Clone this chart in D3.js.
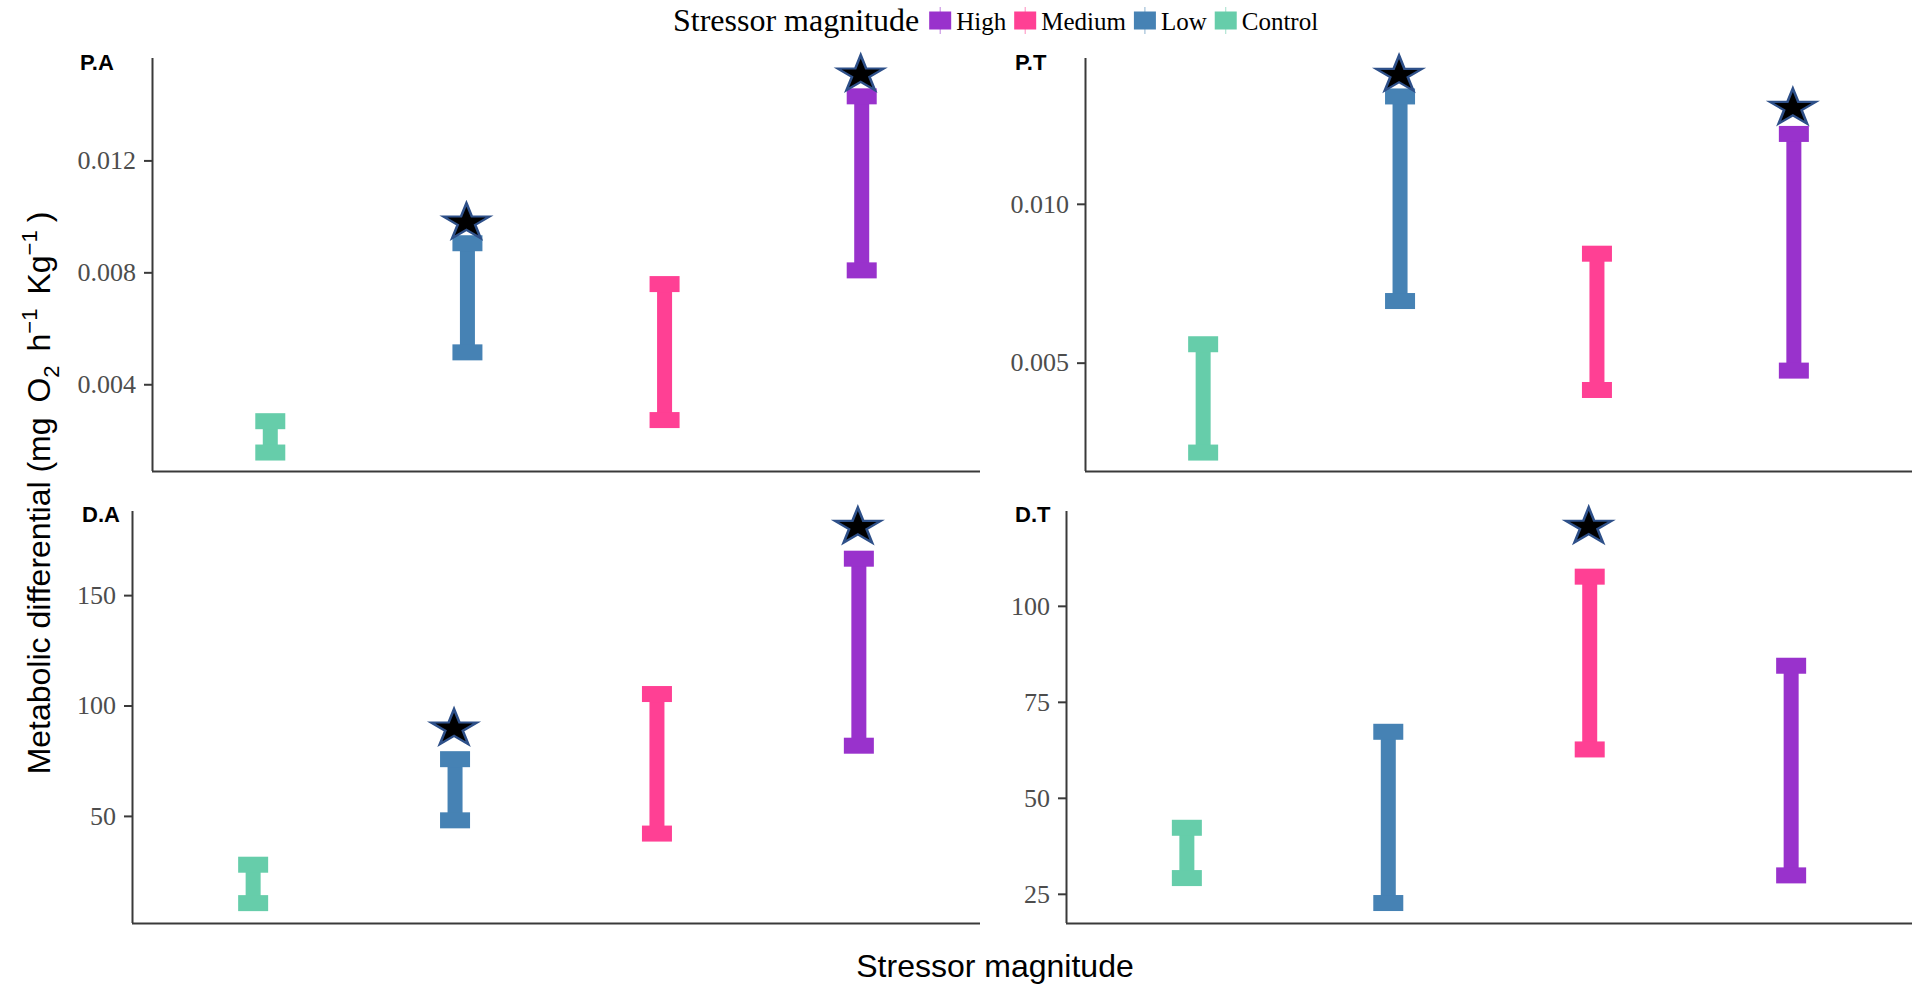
<!DOCTYPE html>
<html>
<head>
<meta charset="utf-8">
<script src="https://cdn.jsdelivr.net/npm/d3@7"></script>
<style>
  html, body { margin: 0; padding: 0; background: #fff; }
  svg { display: block; }
</style>
</head>
<body>
<svg id="chart" width="1912" height="985"></svg>
<script>
// ---------------- data ----------------
const categories = ["Control", "Low", "Medium", "High"];
const legendOrder = ["High", "Medium", "Low", "Control"];
const colors = ["#66CDAA", "#4682B4", "#FF4094", "#9932CC"]; // Control, Low, Medium, High

const panelNames = ["P.A", "P.T", "D.A", "D.T"];

const lowerPA = [0.00156, 0.00514, 0.00272, 0.00807];
const upperPA = [0.00268, 0.00904, 0.00758, 0.01429];
const starPA  = [null, 0.00978, null, 0.01507];

const lowerPT = [0.00217, 0.00694, 0.00414, 0.00475];
const upperPT = [0.00558, 0.01338, 0.00843, 0.01220];
const starPT  = [null, 0.01406, null, 0.01302];

const lowerDA = [10.5, 48.0, 42.0, 81.8];
const upperDA = [27.9, 75.7, 105.2, 166.5];
const starDA  = [null, 89.6, null, 180.9];

const lowerDT = [29.1, 22.6, 62.6, 29.8];
const upperDT = [42.2, 67.2, 107.6, 84.4];
const starDT  = [null, null, 120.6, null];

const ticksPA = [0.004, 0.008, 0.012];
const ticksPT = [0.005, 0.010];
const ticksDA = [50, 100, 150];
const ticksDT = [25, 50, 75, 100];

const domainPA = [0.00090, 0.01566];
const domainPT = [0.00159, 0.01459];
const domainDA = [1.5, 188.1];
const domainDT = [17.4, 124.7];

// ---------------- layout ----------------
const svg = d3.select("#chart");
const serif = "'Liberation Serif', 'Times New Roman', serif";
const sans = "'Liberation Sans', Arial, sans-serif";

const panels = [
  { name: panelNames[0], lo: lowerPA, hi: upperPA, star: starPA, ticks: ticksPA, domain: domainPA, fmt: d3.format(".3f"),
    x0: 152, x1: 980, y0: 58, y1: 471, lx: 80, ly: 70 },
  { name: panelNames[1], lo: lowerPT, hi: upperPT, star: starPT, ticks: ticksPT, domain: domainPT, fmt: d3.format(".3f"),
    x0: 1085, x1: 1912, y0: 58, y1: 471, lx: 1015, ly: 70 },
  { name: panelNames[2], lo: lowerDA, hi: upperDA, star: starDA, ticks: ticksDA, domain: domainDA, fmt: d3.format("d"),
    x0: 132, x1: 980, y0: 511, y1: 923, lx: 82, ly: 522 },
  { name: panelNames[3], lo: lowerDT, hi: upperDT, star: starDT, ticks: ticksDT, domain: domainDT, fmt: d3.format("d"),
    x0: 1066, x1: 1912, y0: 511, y1: 923, lx: 1015, ly: 522 }
];

const color = d3.scaleOrdinal().domain(categories).range(colors);
const lineW = 15, capW = 30, capH = 16;
const axisColor = "#3a3a3a";

panels.forEach(p => {
  const g = svg.append("g");
  const x = d3.scalePoint().domain(categories).range([p.x0, p.x1]).padding(0.6);
  const y = d3.scaleLinear().domain(p.domain).range([p.y1, p.y0]);

  // y axis
  const yAxis = d3.axisLeft(y).tickValues(p.ticks).tickFormat(p.fmt).tickSize(8).tickPadding(8).tickSizeOuter(0);
  const ya = g.append("g").attr("transform", `translate(${p.x0},0)`).call(yAxis);
  ya.select(".domain").attr("stroke", axisColor).attr("stroke-width", 2)
    .attr("d", `M0.5,${p.y0}V${p.y1}`);
  ya.selectAll(".tick line").attr("stroke", axisColor).attr("stroke-width", 2);
  ya.selectAll(".tick text").attr("fill", "#4D4D4D").style("font-family", serif).style("font-size", "26px");

  // x axis (no ticks or labels)
  const xAxis = d3.axisBottom(x).tickSize(0).tickFormat("").tickSizeOuter(0);
  const xa = g.append("g").attr("transform", `translate(0,${p.y1})`).call(xAxis);
  xa.select(".domain").attr("stroke", axisColor).attr("stroke-width", 2)
    .attr("d", `M${p.x0},0.5H${p.x1}`);
  xa.selectAll(".tick").remove();

  // error bars
  const rows = categories.map((c, i) => ({ c, lo: p.lo[i], hi: p.hi[i], star: p.star[i] }));
  const eb = g.append("g").selectAll("g").data(rows).join("g");
  eb.append("rect")
    .attr("x", d => x(d.c) - lineW / 2).attr("width", lineW)
    .attr("y", d => y(d.hi)).attr("height", d => y(d.lo) - y(d.hi))
    .attr("fill", d => color(d.c));
  eb.append("rect")
    .attr("x", d => x(d.c) - capW / 2).attr("width", capW)
    .attr("y", d => y(d.hi) - capH / 2).attr("height", capH)
    .attr("fill", d => color(d.c));
  eb.append("rect")
    .attr("x", d => x(d.c) - capW / 2).attr("width", capW)
    .attr("y", d => y(d.lo) - capH / 2).attr("height", capH)
    .attr("fill", d => color(d.c));

  // significance stars
  const starPath = d3.symbol(d3.symbolStar, 440)();
  g.append("g").selectAll("path").data(rows.filter(d => d.star != null)).join("path")
    .attr("d", starPath)
    .attr("transform", d => `translate(${x(d.c) - 1},${y(d.star)}) scale(1.22,0.98)`)
    .attr("fill", "#000")
    .attr("stroke", "#2E5089")
    .attr("stroke-width", 2.2)
    .attr("stroke-linejoin", "miter");

  // panel label
  g.append("text").attr("x", p.lx).attr("y", p.ly)
    .style("font-family", sans).style("font-weight", "bold").style("font-size", "22px")
    .attr("fill", "#000").text(p.name);
});

// ---------------- titles ----------------
svg.append("text")
  .attr("x", 995).attr("y", 977)
  .attr("text-anchor", "middle")
  .style("font-family", sans).style("font-size", "32px").attr("fill", "#000")
  .text("Stressor magnitude");

const yt = svg.append("text")
  .attr("transform", "translate(50,493) rotate(-90)")
  .attr("text-anchor", "middle")
  .style("font-family", sans).style("font-size", "32px").attr("fill", "#000");
yt.append("tspan").text("Metabolic differential (mg ");
yt.append("tspan").attr("dx", 6).text("O");
yt.append("tspan").attr("dy", 9).style("font-size", "22px").text("2");
yt.append("tspan").attr("dy", -9).attr("dx", 14).text("h");
yt.append("tspan").attr("dy", -13).style("font-size", "22px").text("\u22121");
yt.append("tspan").attr("dy", 13).attr("dx", 14).text("Kg");
yt.append("tspan").attr("dy", -13).style("font-size", "22px").text("\u22121");
yt.append("tspan").attr("dy", 13).attr("dx", 8).text(")");

// ---------------- legend ----------------
const leg = svg.append("g");
const legTitle = leg.append("text").attr("x", 673).attr("y", 31)
  .style("font-family", serif).style("font-size", "32px").attr("fill", "#000")
  .text("Stressor magnitude");
let cx = 673 + legTitle.node().getComputedTextLength() + 10;
legendOrder.forEach(name => {
  const c = color(name);
  leg.append("line").attr("x1", cx + 11).attr("x2", cx + 11).attr("y1", 7).attr("y2", 34)
    .attr("stroke", c).attr("stroke-width", 1).attr("opacity", 0.6);
  leg.append("rect").attr("x", cx).attr("y", 11.5).attr("width", 22).attr("height", 18).attr("fill", c);
  const t = leg.append("text").attr("x", cx + 27).attr("y", 29.5)
    .style("font-family", serif).style("font-size", "25px").attr("fill", "#000").text(name);
  cx += 27 + t.node().getComputedTextLength() + 8;
});
</script>
</body>
</html>
